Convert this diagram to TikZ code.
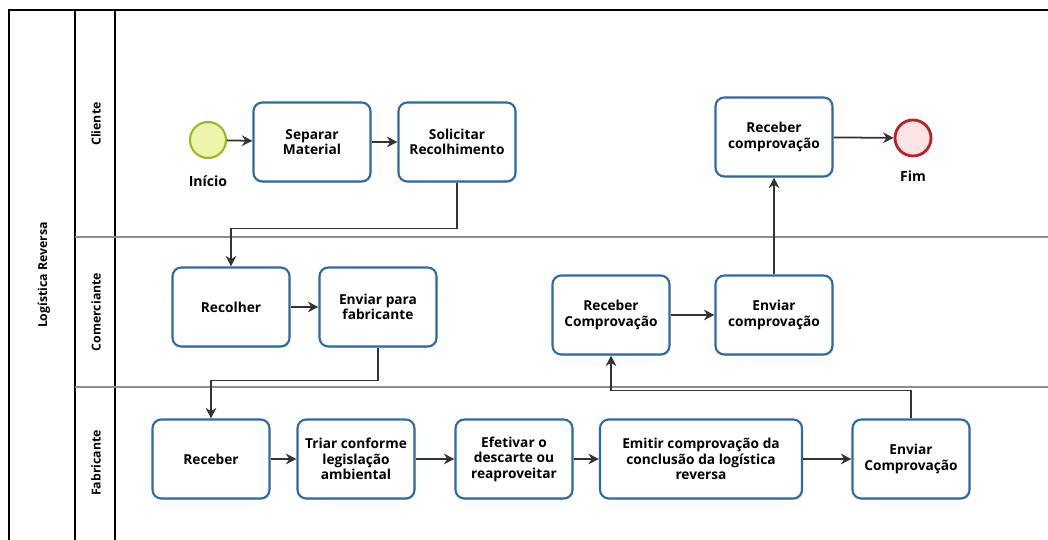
\documentclass[tikz,border=0pt]{standalone}
\usepackage{fontspec}
\setmainfont{Open Sans}
\usepackage{tikz}
\usetikzlibrary{arrows.meta,shadows}
\definecolor{taskblue}{RGB}{45,105,165}
\definecolor{startfill}{RGB}{238,245,170}
\definecolor{startline}{RGB}{150,185,40}
\definecolor{endfill}{RGB}{252,228,228}
\definecolor{endline}{RGB}{190,30,40}
\tikzset{
  task/.style={ draw=taskblue, line width=1.2pt, rounded corners=5pt, fill=white,
    drop shadow={shadow xshift=0.6pt, shadow yshift=-0.8pt, opacity=0.25},
    minimum width=117*0.02cm, minimum height=79*0.02cm, align=center,
    font=\fontsize{7.8}{8.8}\selectfont\bfseries }
}
\tikzset{
  startev/.style={ draw=startline, line width=1.2pt, circle, fill=startfill, minimum size=36*0.02cm }
}
\tikzset{
  endev/.style={ draw=endline, line width=1.6pt, circle, fill=endfill, minimum size=36*0.02cm }
}
\tikzset{
  flow/.style={ draw=black!80, line width=1pt, -{Stealth[length=6pt,width=6pt]} }
}
\tikzset{
  lanelabel/.style={ rotate=90, font=\fontsize{7}{8}\selectfont\bfseries }
}
\tikzset{
  evlabel/.style={ font=\fontsize{8}{9}\selectfont\bfseries }
}

\begin{document}
\begin{tikzpicture}[x=0.02cm,y=-0.02cm]
      \useasboundingbox (0,0) rectangle (1048,540);

      % pool and lanes
      \draw[line width=0.8pt] (9,540) -- (9,10) -- (1048,10);
      \draw[line width=0.8pt] (75,10) -- (75,540);
      \draw[line width=0.8pt] (115,10) -- (115,540);
      \draw[line width=0.8pt, black!45] (75,237) -- (1048,237);
      \draw[line width=0.8pt, black!45] (75,387) -- (1048,387);
      \node[lanelabel] (pool) at (44,275) {Logística Reversa};
      \node[lanelabel] (cli) at (96,124) {Cliente};
      \node[lanelabel] (com) at (96,312) {Comerciante};
      \node[lanelabel] (fab) at (96,463) {Fabricante};

      % cliente
      \node[startev, label={[evlabel, yshift=-6pt]below:Início}] (inicio) at (208,140) {};
      \node[task] (separar) at (312,142) {Separar\\Material};
      \node[task] (solicitar) at (457,142) {Solicitar\\Recolhimento};
      \node[task] (recC) at (774,137) {Receber\\comprovação};
      \node[endev, label={[evlabel, yshift=-4pt]below:Fim}] (fim) at (913,138) {};

      % comerciante
      \node[task] (recolher) at (231,307) {Recolher};
      \node[task] (enviarF) at (378,307) {Enviar para\\fabricante};
      \node[task] (recM) at (611,315) {Receber\\Comprovação};
      \node[task] (enviarM) at (774,315) {Enviar\\comprovação};

      % fabricante
      \node[task] (receber) at (211,459) {Receber};
      \node[task] (triar) at (356,459) {Triar conforme\\legislação\\ambiental};
      \node[task] (efetivar) at (514,459) {Efetivar o\\descarte ou\\reaproveitar};
      \node[task, minimum width=202*0.02cm] (emitir) at (701,459) {Emitir comprovação da\\conclusão da logística\\reversa};
      \node[task] (enviarB) at (911,459) {Enviar\\Comprovação};

      \draw[flow] (inicio) -- (separar);
      \draw[flow] (separar) -- (solicitar);
      \draw[flow] (solicitar.south) -- ++(0,46) -| (recolher.north);
      \draw[flow] (recolher) -- (enviarF);
      \draw[flow] (enviarF.south) -- ++(0,33) -| (receber.north);
      \draw[flow] (receber) -- (triar);
      \draw[flow] (triar) -- (efetivar);
      \draw[flow] (efetivar) -- (emitir);
      \draw[flow] (emitir) -- (enviarB);
      \draw[flow] (enviarB.north) -- ++(0,-28) -| (recM.south);
      \draw[flow] (recM) -- (enviarM);
      \draw[flow] (enviarM) -- (recC);
      \draw[flow] (recC) -- (fim);
    \end{tikzpicture}
\end{document}
